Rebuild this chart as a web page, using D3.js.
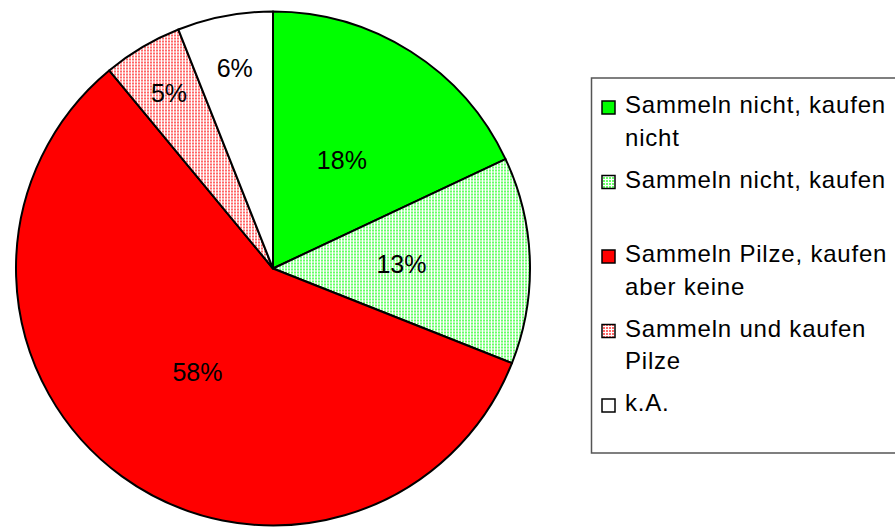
<!DOCTYPE html>
<html>
<head>
<meta charset="utf-8">
<script src="https://cdn.jsdelivr.net/npm/d3@7"></script>
<style>
  html, body { margin: 0; padding: 0; background: #fff; }
  svg { display: block; }
</style>
</head>
<body>
<svg id="chart" width="895" height="527"></svg>
<script>
// Pilze: Sammeln / Kaufen (Anteile in Prozent)
const categories = [
  "Sammeln nicht, kaufen nicht",
  "Sammeln nicht, kaufen",
  "Sammeln Pilze, kaufen aber keine",
  "Sammeln und kaufen Pilze",
  "k.A."
];
const values = [18, 13, 58, 5, 6];
const valueLabels = ["18%", "13%", "58%", "5%", "6%"];
// legend lines per entry (wrapped as in the legend box)
const legendLines = [
  ["Sammeln nicht, kaufen", "nicht"],
  ["Sammeln nicht, kaufen", ""],
  ["Sammeln Pilze, kaufen", "aber keine"],
  ["Sammeln und kaufen", "Pilze"],
  ["k.A."]
];
// fill style per slice: solid colour or dotted pattern
const fills = [
  { type: "solid", color: "#00ff00" },
  { type: "dots", color: "#00ff00" },
  { type: "solid", color: "#ff0000" },
  { type: "dots", color: "#ff0000" },
  { type: "solid", color: "#ffffff" }
];

const svg = d3.select("#chart");
const defs = svg.append("defs");
const font = "'Liberation Sans', Arial, sans-serif";

// dotted fill patterns
fills.forEach((f, i) => {
  if (f.type !== "dots") return;
  const p = defs.append("pattern")
    .attr("id", "dots" + i)
    .attr("patternUnits", "userSpaceOnUse")
    .attr("width", 3).attr("height", 3);
  p.append("rect").attr("width", 3).attr("height", 3).attr("fill", "#fff");
  p.append("rect").attr("x", 0).attr("y", 0).attr("width", 2).attr("height", 2)
    .attr("fill", f.color).attr("opacity", 0.6);
});
const fillOf = i => fills[i].type === "dots" ? `url(#dots${i})` : fills[i].color;

// pie
const cx = 273, cy = 268.5, radius = 257;
const pie = d3.pie().sort(null).value(d => d)(values);
const arc = d3.arc().innerRadius(0).outerRadius(radius);

const g = svg.append("g").attr("transform", `translate(${cx},${cy})`);
g.selectAll("path.slice")
  .data(pie)
  .join("path")
  .attr("class", "slice")
  .attr("d", arc)
  .attr("fill", (d, i) => fillOf(i))
  .attr("stroke", "#000")
  .attr("stroke-width", 2)
  .attr("stroke-linejoin", "round");

// percentage labels: small slices placed further out
g.selectAll("text.lbl")
  .data(pie)
  .join("text")
  .attr("class", "lbl")
  .each(function (d) {
    const share = d.value / d3.sum(values);
    const k = share < 0.1 ? 0.795 : 0.5;
    const a = (d.startAngle + d.endAngle) / 2;
    d3.select(this)
      .attr("x", Math.sin(a) * radius * k)
      .attr("y", -Math.cos(a) * radius * k);
  })
  .attr("text-anchor", "middle")
  .attr("dy", "0.36em")
  .attr("font-family", font)
  .attr("font-size", 25)
  .attr("fill", "#000")
  .text((d, i) => valueLabels[i]);

// legend
const legX = 591.5, legY = 78, legW = 320, legH = 375;
svg.append("rect")
  .attr("x", legX).attr("y", legY)
  .attr("width", legW).attr("height", legH)
  .attr("fill", "#fff")
  .attr("stroke", "#555")
  .attr("stroke-width", 1.5);

const lineH = 32.5, itemGap = 9.5;
let base = 113;
legendLines.forEach((lines, i) => {
  const item = svg.append("g");
  item.append("rect")
    .attr("x", 602).attr("y", base - 12)
    .attr("width", 13).attr("height", 13)
    .attr("fill", fillOf(i))
    .attr("stroke", "#000")
    .attr("stroke-width", 1.5);
  lines.forEach((t, j) => {
    item.append("text")
      .attr("x", 625)
      .attr("y", base + j * lineH)
      .attr("font-family", font)
      .attr("font-size", 24)
      .attr("letter-spacing", 0.8)
      .attr("fill", "#000")
      .text(t);
  });
  base += lines.length * lineH + itemGap;
});
</script>
</body>
</html>
